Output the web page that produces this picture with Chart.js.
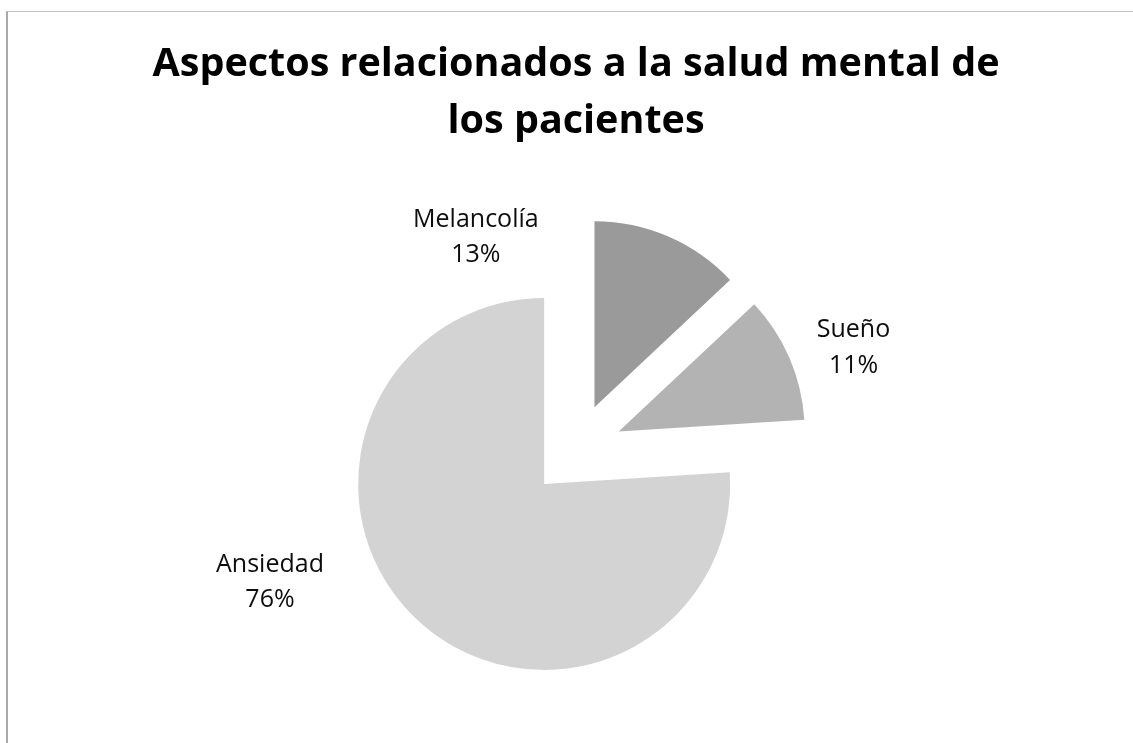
<!DOCTYPE html>
<html lang="es">
<head>
<meta charset="utf-8">
<title>Aspectos relacionados a la salud mental de los pacientes</title>
<script src="https://cdn.jsdelivr.net/npm/chart.js@4.4.1/dist/chart.umd.min.js"></script>
<style>
  html, body { margin:0; padding:0; background:#fff; overflow:hidden; }
  #frame { position:absolute; left:6px; top:11px; width:2000px; height:2000px;
           border-left:2px solid #a9a9a9; border-top:1px solid #c0c0c0; pointer-events:none; }
  #wrap { position:absolute; left:0; top:0; width:1133px; height:743px; }
</style>
</head>
<body>
<div id="frame"></div>
<div id="wrap"><canvas id="pieChart"></canvas></div>
<script>
/* ── data ── */
const TITLE_LINES = ['Aspectos relacionados a la salud mental de', 'los pacientes'];
const CATEGORIES  = ['Melancolía', 'Sueño', 'Ansiedad'];
const VALUES      = [13, 11, 76];

/* ── styling ── */
const SLICE_COLORS = ['#9a9a9a', '#b3b3b3', '#d3d3d3'];
const EXPLODE_PX   = 46.5;
// label anchor: angle from 12 o'clock (deg, clockwise), distance in radii
const LABEL_PLACE  = [ {angle:-26, dist:1.228}, {angle:71.1, dist:1.577}, {angle:245.5, dist:1.808} ];
const LABEL_FONT   = "25px 'Open Sans', sans-serif";
const LABEL_LINE_H = 35.5;

// draws each slice pulled out along its mid angle
const explodePlugin = {
  id:'explode',
  beforeDatasetDraw(chart, args) {
    const ctx = chart.ctx;
    args.meta.data.forEach(arc => {
      const mid = (arc.startAngle + arc.endAngle) / 2;
      ctx.save();
      ctx.translate(Math.cos(mid) * EXPLODE_PX, Math.sin(mid) * EXPLODE_PX);
      arc.draw(ctx);
      ctx.restore();
    });
    return false;
  }
};

// "Category\nNN%" labels outside the slices
const sliceLabels = {
  id:'sliceLabels',
  afterDatasetsDraw(chart) {
    const ctx = chart.ctx;
    const arcs = chart.getDatasetMeta(0).data;
    const total = VALUES.reduce((a, b) => a + b, 0);
    ctx.save();
    ctx.font = LABEL_FONT;
    ctx.fillStyle = '#0d0d0d';
    ctx.textAlign = 'center';
    ctx.textBaseline = 'alphabetic';
    arcs.forEach((arc, i) => {
      const p = LABEL_PLACE[i];
      const a = (p.angle - 90) * Math.PI / 180;
      const x = arc.x + Math.cos(a) * arc.outerRadius * p.dist;
      const y = arc.y + Math.sin(a) * arc.outerRadius * p.dist;
      ctx.fillText(CATEGORIES[i], x, y - LABEL_LINE_H / 2);
      ctx.fillText(Math.round(VALUES[i] / total * 100) + '%', x, y + LABEL_LINE_H / 2);
    });
    ctx.restore();
  }
};

function buildPie() {
  const ctx = document.getElementById('pieChart').getContext('2d');
  return new Chart(ctx, {
    type:'pie',
    data:{
      labels: CATEGORIES,
      datasets:[{ data:VALUES, backgroundColor:SLICE_COLORS, borderWidth:0, hoverOffset:0 }]
    },
    options:{
      responsive:true,
      maintainAspectRatio:false,
      animation:false,
      radius:186,
      layout:{ padding:{ left:19, right:0, top:0, bottom:0 } },
      plugins:{
        legend:{ display:false },
        tooltip:{ enabled:false },
        title:{
          display:true,
          text:TITLE_LINES,
          color:'#000',
          font:{ family:"'Open Sans', sans-serif", size:39.5, weight:'bold', lineHeight:57/39.5 },
          padding:{ top:36, bottom:7 }
        }
      }
    },
    plugins:[explodePlugin, sliceLabels]
  });
}

window.addEventListener('DOMContentLoaded', buildPie);
</script>
</body>
</html>
